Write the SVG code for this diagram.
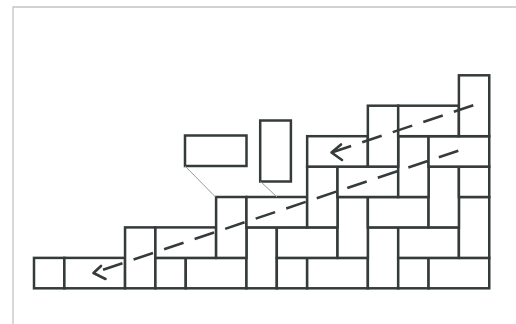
<svg xmlns="http://www.w3.org/2000/svg" width="516" height="324" viewBox="0 0 516 324">
  <style>
    .b { fill: #ffffff; stroke: #353a3a; stroke-width: 2.5; }
    .d { fill: none; stroke: #353a3a; stroke-width: 2.6; stroke-dasharray: 20.5 11.7; }
    .h { fill: none; stroke: #353a3a; stroke-width: 2.6; stroke-linecap: round; stroke-linejoin: round; }
    .t { fill: none; stroke: #9a9a9a; stroke-width: 1; }
    .f { fill: none; stroke: #c4c4c4; stroke-width: 1.3; }
  </style>
  <rect width="516" height="324" fill="#ffffff"/>
  <path class="f" d="M13,324 V7 H516"/>

  <g id="bricks">
    <g id="b0"><rect class="b" x="34" y="257.9" width="30.35" height="30.4"/></g>
    <g id="b1"><rect class="b" x="64.35" y="257.9" width="60.7" height="30.4"/></g>
    <g id="b2"><rect class="b" x="125.05" y="227.4" width="30.35" height="60.9"/></g>
    <g id="b3"><rect class="b" x="155.4" y="257.9" width="30.35" height="30.4"/></g>
    <g id="b4"><rect class="b" x="185.75" y="257.9" width="60.7" height="30.4"/></g>
    <g id="b5"><rect class="b" x="246.45" y="227.4" width="30.35" height="60.9"/></g>
    <g id="b6"><rect class="b" x="276.8" y="257.9" width="30.35" height="30.4"/></g>
    <g id="b7"><rect class="b" x="307.15" y="257.9" width="60.7" height="30.4"/></g>
    <g id="b8"><rect class="b" x="367.85" y="227.4" width="30.35" height="60.9"/></g>
    <g id="b9"><rect class="b" x="398.2" y="257.9" width="30.35" height="30.4"/></g>
    <g id="b10"><rect class="b" x="428.55" y="257.9" width="60.7" height="30.4"/></g>

    <g id="b11"><rect class="b" x="155.4" y="227.4" width="60.7" height="30.5"/></g>
    <g id="b12"><rect class="b" x="216.1" y="197" width="30.35" height="60.9"/></g>
    <g id="b13"><rect class="b" x="276.8" y="227.4" width="60.7" height="30.5"/></g>
    <g id="b14"><rect class="b" x="337.5" y="197" width="30.35" height="60.9"/></g>
    <g id="b15"><rect class="b" x="398.2" y="227.4" width="60.7" height="30.5"/></g>
    <g id="b16"><rect class="b" x="458.9" y="197" width="30.35" height="60.9"/></g>

    <g id="b17"><rect class="b" x="246.45" y="197" width="60.7" height="30.4"/></g>
    <g id="b18"><rect class="b" x="307.15" y="166.6" width="30.35" height="60.8"/></g>
    <g id="b19"><rect class="b" x="367.85" y="197" width="60.7" height="30.4"/></g>
    <g id="b20"><rect class="b" x="428.55" y="166.6" width="30.35" height="60.8"/></g>

    <g id="b21"><rect class="b" x="337.5" y="166.6" width="60.7" height="30.4"/></g>
    <g id="b22"><rect class="b" x="398.2" y="136.2" width="30.35" height="60.8"/></g>
    <g id="b23"><rect class="b" x="458.9" y="166.6" width="30.35" height="30.4"/></g>

    <g id="b24"><rect class="b" x="307.15" y="136.2" width="60.7" height="30.4"/></g>
    <g id="b25"><rect class="b" x="367.85" y="105.7" width="30.35" height="60.9"/></g>
    <g id="b26"><rect class="b" x="428.55" y="136.2" width="60.7" height="30.4"/></g>

    <g id="b27"><rect class="b" x="398.2" y="105.7" width="60.7" height="30.5"/></g>
    <g id="b28"><rect class="b" x="458.9" y="75.3" width="30.35" height="60.9"/></g>
  </g>

  <g id="loose-horizontal"><rect class="b" x="185" y="135.5" width="61.5" height="30.5"/></g>
  <g id="loose-vertical"><rect class="b" x="260.2" y="120.5" width="30.7" height="61"/></g>

  <g id="connectors">
    <line class="t" x1="185" y1="166" x2="215.5" y2="197"/>
    <line class="t" x1="260.5" y1="181.5" x2="277" y2="197"/>
    <line class="d" x1="458.3" y1="150.7" x2="93.5" y2="273"/>
    <polyline class="h" points="101,266 93.5,273 105.5,279"/>
    <line class="d" x1="473.3" y1="105.3" x2="331.5" y2="152.5"/>
    <polyline class="h" points="341,144.5 331.5,152.5 342,160"/>
  </g>
</svg>
